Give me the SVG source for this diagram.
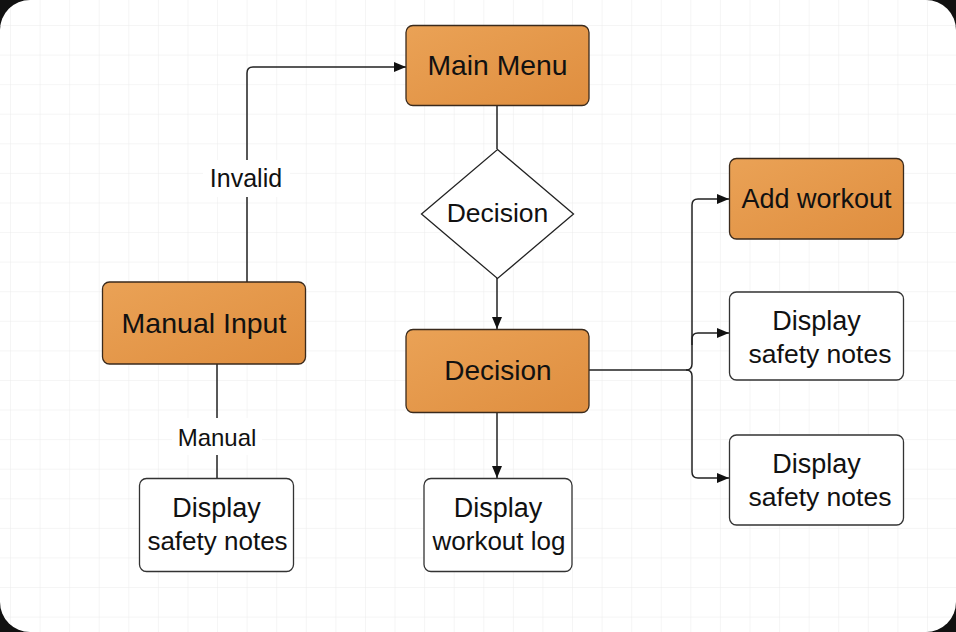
<svg xmlns="http://www.w3.org/2000/svg" width="956" height="632" viewBox="0 0 956 632">
<defs>
<pattern id="grid" x="10" y="25" width="29.58" height="29.58" patternUnits="userSpaceOnUse">
<path d="M0,0 H29.58 M0,0 V29.58" fill="none" stroke="#ebebeb" stroke-width="1"/>
</pattern>
<linearGradient id="og" x1="0" y1="0" x2="1" y2="1">
<stop offset="0" stop-color="#EAA256"/>
<stop offset="1" stop-color="#DF8E3F"/>
</linearGradient>
<marker id="arr" viewBox="0 0 12 10" refX="12" refY="5" markerWidth="12" markerHeight="10" markerUnits="userSpaceOnUse" orient="auto">
<path d="M0,0 L12,5 L0,10 z" fill="#111"/>
</marker>
<style>
.o{fill:url(#og);stroke:#3a2a1c;stroke-width:1.3}
.w{fill:#fff;stroke:#333;stroke-width:1.3}
.t{font-family:"Liberation Sans",Arial,sans-serif;fill:#111;text-anchor:middle}
.c{fill:none;stroke:#222;stroke-width:1.5}
</style>
</defs>
<rect x="0" y="0" width="956" height="632" fill="#111"/>
<rect x="0" y="0" width="956" height="632" rx="30" fill="#fff"/>
<rect x="0" y="0" width="956" height="632" rx="30" fill="url(#grid)"/>

<g id="connectors">
<path class="c" d="M247,282 V73 Q247,67 253,67 H406" marker-end="url(#arr)"/>
<path class="c" d="M497,106 V149"/>
<path class="c" d="M497,278 V329" marker-end="url(#arr)"/>
<path class="c" d="M497,412 V478" marker-end="url(#arr)"/>
<path class="c" d="M589,370 H686 Q692,370 692,364 V205 Q692,199 698,199 H729" marker-end="url(#arr)"/>
<path class="c" d="M692,345 V339 Q692,333 698,333 H729" marker-end="url(#arr)"/>
<path class="c" d="M686,370 Q692,370 692,376 V472 Q692,478 698,478 H729" marker-end="url(#arr)"/>
<path class="c" d="M217,364 V478"/>
<g id="label-invalid">
<rect x="203" y="160" width="87" height="37" fill="#fff"/>
<text class="t" x="246" y="186.5" font-size="25">Invalid</text>
</g>
<g id="label-manual">
<rect x="172" y="418" width="90" height="37" fill="#fff"/>
<text class="t" x="217" y="445.5" font-size="24">Manual</text>
</g>
</g>

<g id="main-menu">
<rect class="o" x="406" y="25.5" width="183" height="80" rx="7"/>
<text class="t" x="497.5" y="75" font-size="28.3">Main Menu</text>
</g>
<g id="decision-diamond">
<polygon points="497.5,149.5 573.5,214 497.5,278.5 421.5,214" fill="#fff" stroke="#222" stroke-width="1.3"/>
<text class="t" x="497.5" y="221.7" font-size="26.5">Decision</text>
</g>
<g id="decision">
<rect class="o" x="406" y="329.5" width="183" height="83" rx="7"/>
<text class="t" x="498" y="379.5" font-size="28">Decision</text>
</g>
<g id="add-workout">
<rect class="o" x="729.5" y="158.5" width="174" height="80.5" rx="7"/>
<text class="t" x="816.5" y="208.3" font-size="27">Add workout</text>
</g>
<g id="safety-notes-1">
<rect class="w" x="729.5" y="292" width="174" height="88" rx="7"/>
<text class="t" x="816.5" y="330" font-size="27">Display</text>
<text class="t" x="820" y="363" font-size="26.5">safety notes</text>
</g>
<g id="safety-notes-2">
<rect class="w" x="729.5" y="435" width="174" height="90" rx="7"/>
<text class="t" x="816.5" y="473" font-size="27">Display</text>
<text class="t" x="820" y="505.5" font-size="26.5">safety notes</text>
</g>
<g id="manual-input">
<rect class="o" x="102.5" y="282" width="203" height="82" rx="7"/>
<text class="t" x="204" y="333.3" font-size="28.5">Manual Input</text>
</g>
<g id="safety-notes-left">
<rect class="w" x="139.5" y="478.5" width="154" height="93" rx="7"/>
<text class="t" x="216.5" y="517" font-size="27">Display</text>
<text class="t" x="217.5" y="549.5" font-size="26">safety notes</text>
</g>
<g id="workout-log">
<rect class="w" x="424" y="478.5" width="148" height="93" rx="7"/>
<text class="t" x="498" y="517" font-size="27">Display</text>
<text class="t" x="499" y="549.5" font-size="26">workout log</text>
</g>
</svg>
